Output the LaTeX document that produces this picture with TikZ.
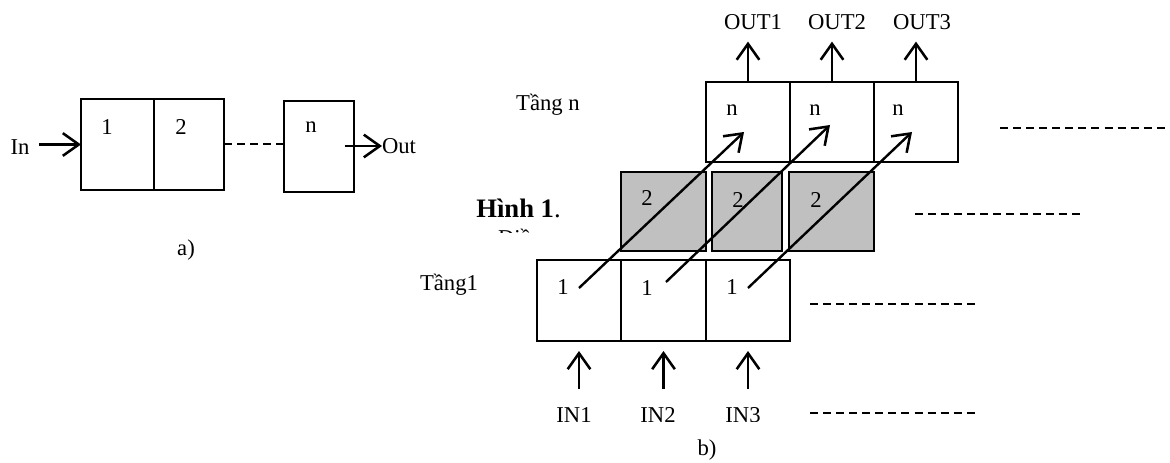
\documentclass[tikz,border=0pt]{standalone}
\usepackage{fontspec}
\setmainfont{Liberation Serif}
\usetikzlibrary{arrows.meta,calc}
\definecolor{cellgray}{RGB}{192,192,192}
\begin{document}
\begin{tikzpicture}[x=0.75pt,y=-0.75pt,
  every node/.style={font=\fontsize{17}{20}\selectfont, inner sep=0pt, outer sep=0pt},
  cell/.style={draw, line width=1.4pt},
  graycell/.style={draw, line width=1.4pt, fill=cellgray},
  arr/.style={line width=1.8pt, -{Straight Barb[length=12pt,width=17pt,line width=1.9pt]}},
  dashline/.style={line width=1.5pt, dash pattern=on 6pt off 3.8pt}
]
\useasboundingbox (0,0) rectangle (1170,463);

% ---------- a) ----------
\node[cell, minimum width=54.75pt, minimum height=68.25pt] (a1) at (117.5,144.5) {};
\node[cell, minimum width=52.5pt, minimum height=68.25pt] (a2) at (189,144.5) {};
\node[cell, minimum width=52.5pt, minimum height=68.25pt] (an) at (319,146.5) {};
\node (ta1) at (107,127) {1};
\node (ta2) at (181,127) {2};
\node (tan) at (311,127) {n};
\node (in) at (20,147) {In};
\node[anchor=west] (out) at (382,146) {Out};
\draw[arr] ($(in.east |- a1.west)+(7.5pt,0)$) -- (a1.west);
\draw[arr] ($(an.east |- out.west)+(-7pt,0)$) -- (out.west);
\draw[dashline] (a2.east) -- (a2.east -| an.west);
\node (la) at (186,250) {a)};

% ---------- b) top layer ----------
\node[cell, minimum width=63pt, minimum height=60pt] (n1) at (748,122) {};
\node[cell, minimum width=63pt, minimum height=60pt] (n2) at (832,122) {};
\node[cell, minimum width=63pt, minimum height=60pt] (n3) at (916,122) {};
\node (tn1) at (732,110) {n};
\node (tn2) at (815,110) {n};
\node (tn3) at (898,110) {n};
\node (o1) at (753,22) {OUT1};
\node (o2) at (837,22) {OUT2};
\node (o3) at (922,22) {OUT3};
\draw[arr, shorten >=9pt] (n1.north) -- (n1.north |- o1.south);
\draw[arr, shorten >=9pt] (n2.north) -- (n2.north |- o2.south);
\draw[arr, shorten >=9pt] (n3.north) -- (n3.north |- o3.south);
\node (tangn) at (548,105) {Tầng n};

% ---------- b) middle (gray) layer ----------
\node[graycell, minimum width=63.75pt, minimum height=59.25pt] (g1) at (663.5,211.5) {};
\node[graycell, minimum width=52.5pt, minimum height=59.25pt] (g2) at (747,211.5) {};
\node[graycell, minimum width=63.75pt, minimum height=59.25pt] (g3) at (831.5,211.5) {};
\node (tg1) at (647,198) {2};
\node (tg2) at (738,200) {2};
\node (tg3) at (816,200) {2};
\node (hinh) at (518.5,208) {\fontsize{20}{24}\selectfont\textbf{Hình 1}.};
\begin{scope}
  \clip (490,200) rectangle (545,233);
  \node[anchor=base west] (dieu) at (498,246) {Điề};
\end{scope}

% ---------- b) bottom layer ----------
\node[cell, minimum width=63pt, minimum height=60.75pt] (b1) at (579,300.5) {};
\node[cell, minimum width=63.75pt, minimum height=60.75pt] (b2) at (663.5,300.5) {};
\node[cell, minimum width=63pt, minimum height=60.75pt] (b3) at (748,300.5) {};
\node (tb1) at (563,287) {1};
\node (tb2) at (647,288) {1};
\node (tb3) at (732,287) {1};
\node (tang1) at (449,285) {Tầng1};

% inputs
\node (i1) at (574,415) {IN1};
\node (i2) at (658,415) {IN2};
\begin{scope}
  \clip (700,395) rectangle (790,421);
  \node (i3) at (743,415) {IN3};
\end{scope}
\draw[arr, shorten <=14pt, shorten >=7.5pt] (b1.south |- i1.north) -- (b1.south);
\draw[arr, shorten <=14pt, shorten >=7.5pt] (b2.south |- i2.north) -- (b2.south);
\draw[arr, shorten <=14pt, shorten >=7.5pt] (b3.south |- i2.north) -- (b3.south);
\node (lb) at (707,450) {b)};

% diagonal arrows
\coordinate (d1s) at (579,288); \coordinate (d1e) at (744,132);
\coordinate (d2s) at (666,282); \coordinate (d2e) at (830,125);
\coordinate (d3s) at (748,288); \coordinate (d3e) at (912,132);
\draw[arr] (d1s) -- (d1e);
\draw[arr] (d2s) -- (d2e);
\draw[arr] (d3s) -- (d3e);

% dashed continuation lines
\coordinate (e1a) at (1000,128); \coordinate (e1b) at (1168,128);
\coordinate (e2a) at (915,214);  \coordinate (e2b) at (1084,214);
\coordinate (e3a) at (810,304);  \coordinate (e3b) at (979,304);
\coordinate (e4a) at (810,413);  \coordinate (e4b) at (979,413);
\draw[dashline] (e1a) -- (e1b);
\draw[dashline] (e2a) -- (e2b);
\draw[dashline] (e3a) -- (e3b);
\draw[dashline] (e4a) -- (e4b);
\end{tikzpicture}
\end{document}
